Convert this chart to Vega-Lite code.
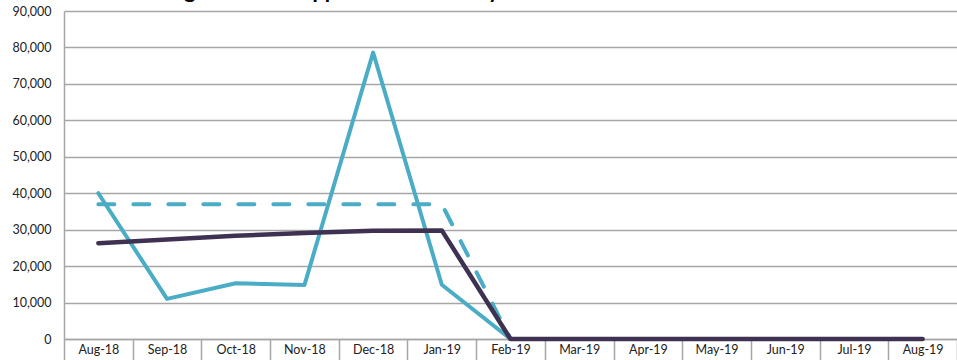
{
  "$schema": "https://vega.github.io/schema/vega-lite/v6.json",
  "autosize": {"type": "none"},
  "padding": {"left": 64, "top": 11, "right": 0, "bottom": 21},
  "width": 893,
  "height": 328,
  "background": "white",
  "title": {
    "text": "Average Orders Shipped within 30 Days",
    "anchor": "start",
    "dx": 117,
    "dy": 20,
    "offset": 6,
    "baseline": "alphabetic",
    "font": "Lato",
    "fontSize": 21.5,
    "fontWeight": "bold",
    "color": "#000000"
  },
  "config": {
    "view": {"stroke": null},
    "axis": {"labelFont": "Lato", "labelFontSize": 12.5, "labelColor": "#222222"}
  },
  "datasets": {
    "actual": [
      {"month": "Aug-18", "value": 40000},
      {"month": "Sep-18", "value": 11000},
      {"month": "Oct-18", "value": 15300},
      {"month": "Nov-18", "value": 14800},
      {"month": "Dec-18", "value": 78600},
      {"month": "Jan-19", "value": 14900},
      {"month": "Feb-19", "value": 0}
    ],
    "target": [
      {"month": "Aug-18", "value": 37000},
      {"month": "Sep-18", "value": 37000},
      {"month": "Oct-18", "value": 37000},
      {"month": "Nov-18", "value": 37000},
      {"month": "Dec-18", "value": 37000},
      {"month": "Jan-19", "value": 37000},
      {"month": "Feb-19", "value": 0}
    ],
    "average": [
      {"month": "Aug-18", "value": 26300},
      {"month": "Sep-18", "value": 27300},
      {"month": "Oct-18", "value": 28300},
      {"month": "Nov-18", "value": 29100},
      {"month": "Dec-18", "value": 29700},
      {"month": "Jan-19", "value": 29800},
      {"month": "Feb-19", "value": 0},
      {"month": "Mar-19", "value": 0},
      {"month": "Apr-19", "value": 0},
      {"month": "May-19", "value": 0},
      {"month": "Jun-19", "value": 0},
      {"month": "Jul-19", "value": 0},
      {"month": "Aug-19", "value": 0}
    ]
  },
  "encoding": {
    "x": {
      "field": "month",
      "type": "ordinal",
      "bandPosition": 0.5,
      "scale": {
        "type": "band",
        "paddingInner": 0,
        "paddingOuter": 0,
        "domain": ["Aug-18", "Sep-18", "Oct-18", "Nov-18", "Dec-18", "Jan-19", "Feb-19", "Mar-19", "Apr-19", "May-19", "Jun-19", "Jul-19", "Aug-19"]
      },
      "axis": {
        "title": null,
        "labelAngle": 0,
        "tickBand": "extent",
        "tickSize": 21,
        "tickColor": "#a6a6a6",
        "tickWidth": 1.5,
        "domainColor": "#a6a6a6",
        "domainWidth": 1.5,
        "labelPadding": -17,
        "labelBaseline": "top"
      }
    },
    "y": {
      "field": "value",
      "type": "quantitative",
      "scale": {"domain": [0, 90000], "nice": false},
      "axis": {
        "title": null,
        "format": ",d",
        "values": [0, 10000, 20000, 30000, 40000, 50000, 60000, 70000, 80000, 90000],
        "ticks": false,
        "labelPadding": 13,
        "gridColor": "#a6a6a6",
        "gridWidth": 1.5,
        "domainColor": "#a6a6a6",
        "domainWidth": 1.5
      }
    }
  },
  "layer": [
    {
      "data": {"name": "actual"},
      "mark": {"type": "line", "color": "#4bacc6", "strokeWidth": 4, "strokeCap": "round", "strokeJoin": "round"}
    },
    {
      "data": {"name": "target"},
      "mark": {"type": "line", "color": "#4bacc6", "strokeWidth": 4, "strokeCap": "round", "strokeJoin": "round", "strokeDash": [16, 19]}
    },
    {
      "data": {"name": "average"},
      "mark": {"type": "line", "color": "#3f3151", "strokeWidth": 4.5, "strokeCap": "round", "strokeJoin": "round"}
    }
  ]
}
